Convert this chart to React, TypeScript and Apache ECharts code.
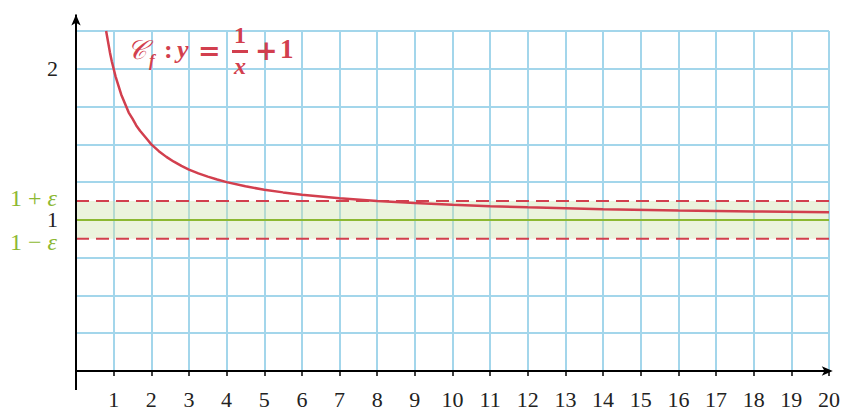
import React, { useEffect, useRef } from "react";
import * as echarts from "echarts";

const xTicks = [1, 2, 3, 4, 5, 6, 7, 8, 9, 10, 11, 12, 13, 14, 15, 16, 17, 18, 19, 20];
const yTickLabels = [1, 2];
const curveX = [0.8, 0.85, 0.9, 0.95, 1, 1.05, 1.1, 1.2, 1.3, 1.4, 1.5, 1.6, 1.7, 1.8, 1.9, 2, 2.2, 2.4, 2.6, 2.8, 3, 3.25, 3.5, 3.75, 4, 4.5, 5, 5.5, 6, 7, 8, 9, 10, 11, 12, 13, 14, 16, 18, 20];
const curveY = [2.25, 2.18, 2.11, 2.05, 2.0, 1.95, 1.91, 1.83, 1.77, 1.71, 1.67, 1.625, 1.59, 1.56, 1.53, 1.5, 1.455, 1.417, 1.385, 1.357, 1.333, 1.308, 1.286, 1.267, 1.25, 1.222, 1.2, 1.182, 1.167, 1.143, 1.125, 1.111, 1.1, 1.091, 1.083, 1.077, 1.071, 1.0625, 1.056, 1.05];
const epsilon = 0.125;
const limit = 1;
const xAxisSpan = [-0.5, 20.1];
const yAxisSpan = [-0.126, 2.36];

const RED = "#d23f4e";
const GREEN = "#8cb832";
const BLUE = "#a3d6eb";
const FONT = "Liberation Serif, serif";
const OPFONT = "DejaVu Serif, serif";

export default function App() {
  const ref = useRef<HTMLDivElement>(null);
  useEffect(() => {
    const chart = echarts.init(ref.current!, null, { renderer: "svg" });
    const curve = curveX.map((x, i) => [x, curveY[i]]);
    const axisSeries = (data: any[]) => ({
      type: "line",
      data,
      symbol: "none",
      clip: false,
      silent: true,
      lineStyle: { color: "#000", width: 2 },
      itemStyle: { color: "#000" },
      z: 6,
    });
    const tickSeries = yTickLabels.map((v) => ({
      type: "line",
      data: [[-0.12, v], [0, v]],
      symbol: "none",
      clip: false,
      silent: true,
      lineStyle: { color: "#000", width: 1.5 },
      z: 6,
    }));
    chart.setOption({
      animation: false,
      grid: { left: 76, right: 10, top: 31, bottom: 39, containLabel: false },
      xAxis: {
        type: "value",
        min: 0,
        max: 20,
        interval: 1,
        axisLine: { show: false },
        axisTick: { show: true, length: 5, lineStyle: { color: "#000", width: 1.5 }, customValues: xTicks },
        axisLabel: {
          customValues: xTicks,
          color: "#222",
          fontFamily: FONT,
          fontSize: 22,
          margin: 17,
        },
        splitLine: { show: true, lineStyle: { color: BLUE, width: 2 } },
      },
      yAxis: {
        type: "value",
        min: 0,
        max: 2.25,
        interval: 0.25,
        axisLine: { show: false },
        axisTick: { show: false },
        axisLabel: {
          color: "#222",
          fontFamily: FONT,
          fontSize: 22,
          lineHeight: 16,
          margin: 18,
          formatter: (v: number) => (yTickLabels.includes(v) ? String(v) : ""),
        },
        splitLine: { show: true, lineStyle: { color: BLUE, width: 2 } },
      },
      series: [
        {
          type: "line",
          data: [[0, limit], [20, limit]],
          symbol: "none",
          lineStyle: { color: GREEN, width: 2 },
          z: 3,
          markArea: {
            silent: true,
            itemStyle: { color: "rgba(205,226,170,0.4)" },
            data: [[{ coord: [0, limit - epsilon] }, { coord: [20, limit + epsilon] }]],
          },
        },
        {
          type: "line",
          data: [[0, limit + epsilon], [20, limit + epsilon]],
          symbol: "none",
          lineStyle: { color: RED, width: 2, type: [13, 7] },
          z: 4,
        },
        {
          type: "line",
          data: [[0, limit - epsilon], [20, limit - epsilon]],
          symbol: "none",
          lineStyle: { color: RED, width: 2, type: [13, 7] },
          z: 4,
        },
        {
          type: "line",
          data: curve,
          symbol: "none",
          smooth: false,
          lineStyle: { color: RED, width: 2.5 },
          z: 5,
        },
        axisSeries([
          [xAxisSpan[0], 0],
          { value: [xAxisSpan[1], 0], symbol: "arrow", symbolSize: [7, 11], symbolRotate: -90 },
        ]),
        axisSeries([
          [0, yAxisSpan[0]],
          { value: [0, yAxisSpan[1]], symbol: "arrow", symbolSize: [7, 11], symbolRotate: 0 },
        ]),
        ...tickSeries,
      ],
      graphic: [
        {
          type: "text", x: 10, y: 198, z: 100,
          style: { text: "1 + {e|ε}", fill: GREEN, font: `24px ${FONT}`, verticalAlign: "middle",
            rich: { e: { fontStyle: "italic", fontFamily: FONT, fontSize: 24, fill: GREEN } } },
        },
        {
          type: "text", x: 10, y: 242, z: 100,
          style: { text: "1 − {e|ε}", fill: GREEN, font: `24px ${FONT}`, verticalAlign: "middle",
            rich: { e: { fontStyle: "italic", fontFamily: FONT, fontSize: 24, fill: GREEN } } },
        },
        { type: "text", x: 127, y: 50, z: 100, style: { text: "𝒞", fill: RED, font: `italic 27px ${FONT}`, verticalAlign: "middle" } },
        { type: "text", x: 149, y: 60, z: 100, style: { text: "f", fill: RED, font: `italic bold 17px ${FONT}`, verticalAlign: "middle" } },
        { type: "text", x: 164, y: 49, z: 100, style: { text: ":", fill: RED, font: `bold 26px ${FONT}`, verticalAlign: "middle" } },
        { type: "text", x: 177, y: 49, z: 100, style: { text: "y", fill: RED, font: `italic bold 26px ${FONT}`, verticalAlign: "middle" } },
        { type: "text", x: 198, y: 50, z: 100, style: { text: "=", fill: RED, font: `bold 27px ${OPFONT}`, verticalAlign: "middle" } },
        { type: "text", x: 240, y: 35, z: 100, style: { text: "1", fill: RED, font: `bold 24px ${FONT}`, align: "center", verticalAlign: "middle" } },
        { type: "rect", z: 100, shape: { x: 232, y: 50, width: 16, height: 3 }, style: { fill: RED } },
        { type: "text", x: 240, y: 66, z: 100, style: { text: "x", fill: RED, font: `italic bold 24px ${FONT}`, align: "center", verticalAlign: "middle" } },
        { type: "text", x: 255, y: 50, z: 100, style: { text: "+", fill: RED, font: `bold 27px ${OPFONT}`, verticalAlign: "middle" } },
        { type: "text", x: 280, y: 49, z: 100, style: { text: "1", fill: RED, font: `bold 27px ${FONT}`, verticalAlign: "middle" } },
      ],
    });
    return () => chart.dispose();
  }, []);
  return <div ref={ref} style={{ width: 843, height: 410, position: "absolute", left: 0, top: 0 }} />;
}
